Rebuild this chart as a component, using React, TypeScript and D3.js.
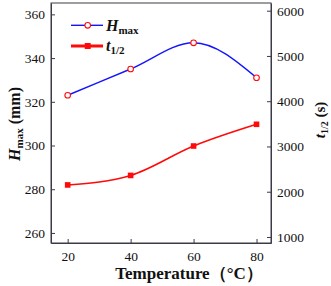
import { useEffect, useRef } from 'react'
import * as d3 from 'd3'

const W = 331
const H = 286
const M = { left: 51, right: 60, top: 3, bottom: 43 }

const temps = [20, 40, 60, 80]
const hmax = [323, 335, 347, 331]
const tHalf = [2150, 2360, 3010, 3490]

const xTicks = [20, 40, 60, 80]
const leftTicks = [260, 280, 300, 320, 340, 360]
const rightTicks = [1000, 2000, 3000, 4000, 5000, 6000]

const BLUE = '#1414ff'
const RED = '#ff0a0a'
const AXIS = '#3a3a48'
const FONT = "'Liberation Serif', 'Times New Roman', Times, serif"

export default function App() {
  const ref = useRef<SVGSVGElement>(null)

  useEffect(() => {
    const svg = d3.select(ref.current)
    svg.selectAll('*').remove()

    const x0 = M.left
    const x1 = W - M.right
    const y0 = H - M.bottom
    const y1 = M.top

    const x = d3.scaleLinear().domain([14.7, 84.6]).range([x0, x1])
    const yL = d3.scaleLinear().domain([255.4, 365.2]).range([y0, y1])
    const yR = d3.scaleLinear().domain([867, 6170]).range([y0, y1])

    const g = svg.append('g').style('font-family', FONT)

    // frame
    g.append('rect')
      .attr('x', x0).attr('y', y1)
      .attr('width', x1 - x0).attr('height', y0 - y1)
      .attr('fill', 'none').attr('stroke', AXIS).attr('stroke-width', 1)

    // axes, ticks pointing inward
    const axB = g.append('g').attr('transform', `translate(0,${y0})`)
      .call(d3.axisBottom(x).tickValues(xTicks).tickSizeInner(-4).tickSizeOuter(0).tickPadding(8))
    const axL = g.append('g').attr('transform', `translate(${x0},0)`)
      .call(d3.axisLeft(yL).tickValues(leftTicks).tickSizeInner(-4).tickSizeOuter(0).tickPadding(6))
    const axR = g.append('g').attr('transform', `translate(${x1},0)`)
      .call(d3.axisRight(yR).tickValues(rightTicks).tickFormat(d3.format('d'))
        .tickSizeInner(-4).tickSizeOuter(0).tickPadding(6))

    for (const ax of [axB, axL, axR]) {
      ax.attr('font-family', null)
      ax.select('.domain').attr('stroke', AXIS)
      ax.selectAll('.tick line').attr('stroke', AXIS)
      ax.selectAll('.tick text')
        .style('font-family', FONT).attr('font-size', 13.5).attr('fill', '#111')
    }

    // curves
    const lineL = d3.line<number>()
      .x((_, i) => x(temps[i])).y(d => yL(d)).curve(d3.curveMonotoneX)
    const lineR = d3.line<number>()
      .x((_, i) => x(temps[i])).y(d => yR(d)).curve(d3.curveMonotoneX)

    g.append('path').attr('d', lineL(hmax)!)
      .attr('fill', 'none').attr('stroke', BLUE).attr('stroke-width', 1.4)
    g.append('path').attr('d', lineR(tHalf)!)
      .attr('fill', 'none').attr('stroke', RED).attr('stroke-width', 1.6)

    g.selectAll('.hm').data(hmax).join('circle')
      .attr('cx', (_, i) => x(temps[i])).attr('cy', d => yL(d)).attr('r', 2.8)
      .attr('fill', '#fff').attr('stroke', RED).attr('stroke-width', 1.1)
    g.selectAll('.th').data(tHalf).join('rect')
      .attr('x', (_, i) => x(temps[i]) - 2.8).attr('y', d => yR(d) - 2.8)
      .attr('width', 5.6).attr('height', 5.6).attr('fill', RED)

    // legend
    const lx0 = 71
    const lx1 = 103
    const lm = 87.7
    g.append('line').attr('x1', lx0).attr('x2', lx1).attr('y1', 25.3).attr('y2', 25.3)
      .attr('stroke', BLUE).attr('stroke-width', 1.4)
    g.append('circle').attr('cx', lm).attr('cy', 25.3).attr('r', 2.8)
      .attr('fill', '#fff').attr('stroke', RED).attr('stroke-width', 1.1)
    g.append('line').attr('x1', lx0).attr('x2', lx1).attr('y1', 46).attr('y2', 46)
      .attr('stroke', RED).attr('stroke-width', 3)
    g.append('rect').attr('x', lm - 3).attr('y', 43).attr('width', 6).attr('height', 6)
      .attr('fill', RED)

    const leg1 = g.append('text').attr('x', 106).attr('y', 31)
      .attr('font-weight', 'bold').attr('font-size', 16).attr('fill', '#111')
    leg1.append('tspan').attr('font-style', 'italic').text('H')
    leg1.append('tspan').attr('font-size', 11).attr('dy', 3).text('max')

    const leg2 = g.append('text').attr('x', 106).attr('y', 51)
      .attr('font-weight', 'bold').attr('font-size', 16).attr('fill', '#111')
    leg2.append('tspan').attr('font-style', 'italic').text('t')
    leg2.append('tspan').attr('font-size', 11).attr('dy', 3).text('1/2')

    // axis titles
    g.append('text').attr('x', 189).attr('y', 279)
      .attr('text-anchor', 'middle').attr('font-weight', 'bold').attr('font-size', 17)
      .attr('fill', '#111').text('Temperature（°C）')

    const tl = g.append('text')
      .attr('transform', 'translate(20,124) rotate(-90)')
      .attr('text-anchor', 'middle').attr('font-weight', 'bold').attr('font-size', 16)
      .attr('fill', '#111')
    tl.append('tspan').attr('font-style', 'italic').text('H')
    tl.append('tspan').attr('font-size', 11).attr('dy', 3).text('max')
    tl.append('tspan').attr('dy', -3).text(' (mm)')

    const tr = g.append('text')
      .attr('transform', 'translate(325,120) rotate(-90)')
      .attr('text-anchor', 'middle').attr('font-weight', 'bold').attr('font-size', 15)
      .attr('fill', '#111')
    tr.append('tspan').attr('font-style', 'italic').text('t')
    tr.append('tspan').attr('font-size', 10).attr('dy', 3).text('1/2')
    tr.append('tspan').attr('dy', -3).text(' (s)')
  }, [])

  return (
    <svg ref={ref} width={W} height={H}
      style={{ position: 'absolute', left: 0, top: 0, background: '#fff' }} />
  )
}
